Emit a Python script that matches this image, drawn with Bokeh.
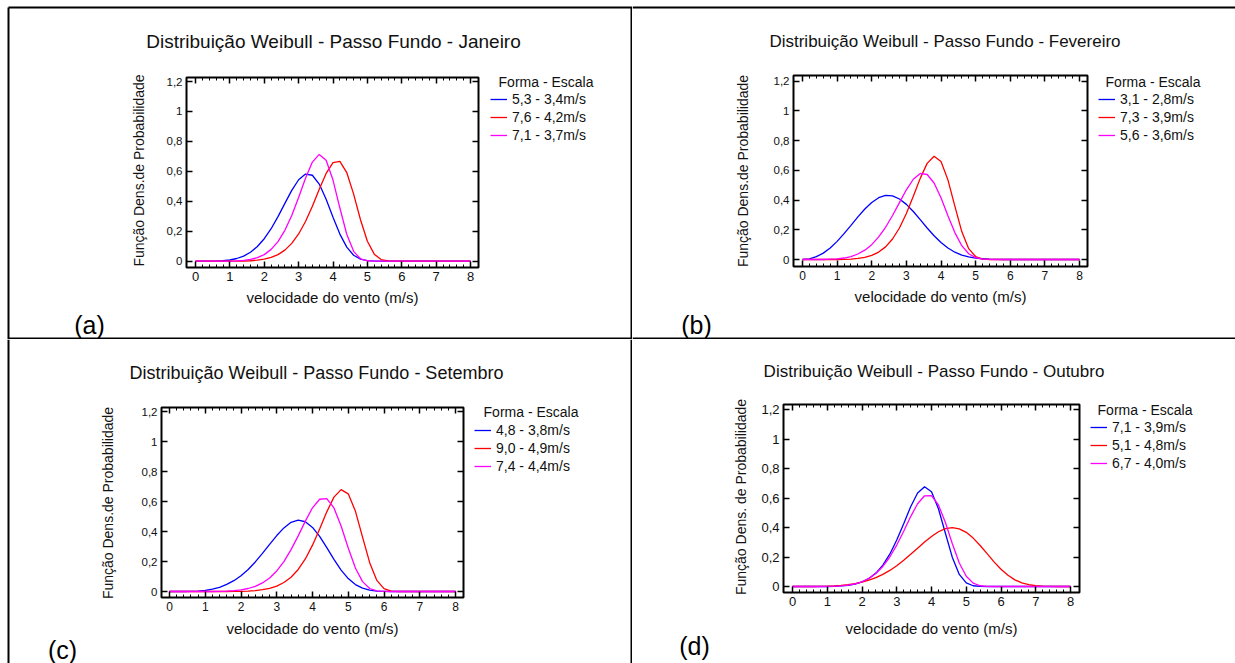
import math
from bokeh.plotting import figure
from bokeh.models import (Range1d, LinearAxis, FixedTicker, Label, Legend,
                          LegendItem, CustomJSTickFormatter)
from bokeh.layouts import row, column
from bokeh.embed import file_html
from bokeh.resources import INLINE

# ---------------- data ----------------
velocidade = [0.0, 0.2, 0.4, 0.6, 0.8, 1.0, 1.2, 1.4, 1.6, 1.8, 2.0, 2.2, 2.4, 2.6, 2.8,
              3.0, 3.2, 3.4, 3.6, 3.8, 4.0, 4.2, 4.4, 4.6, 4.8, 5.0, 5.2, 5.4, 5.6, 5.8,
              6.0, 6.2, 6.4, 6.6, 6.8, 7.0, 7.2, 7.4, 7.6, 7.8, 8.0]

x_ticks = [0, 1, 2, 3, 4, 5, 6, 7, 8]
y_ticks = [0, 0.2, 0.4, 0.6, 0.8, 1.0, 1.2]

titles = ["Distribuição Weibull - Passo Fundo - Janeiro",
          "Distribuição Weibull - Passo Fundo - Fevereiro",
          "Distribuição Weibull - Passo Fundo - Setembro",
          "Distribuição Weibull - Passo Fundo - Outubro"]
y_labels = ["Função Dens.de Probabilidade", "Função Dens.de Probabilidade",
            "Função Dens.de Probabilidade", "Função Dens. de Probabilidade"]
x_label = "velocidade do vento (m/s)"
legend_title = "Forma - Escala"
panel_letters = ["(a)", "(b)", "(c)", "(d)"]

jan_labels = ["5,3 - 3,4m/s", "7,6 - 4,2m/s", "7,1 - 3,7m/s"]
jan_1 = [0, 0, 0, 0.001, 0.003, 0.008, 0.018, 0.034, 0.060, 0.098, 0.150, 0.217, 0.298, 0.386,
         0.473, 0.544, 0.582, 0.574, 0.515, 0.414, 0.294, 0.181, 0.094, 0.040, 0.014, 0.004,
         0.001, 0, 0, 0, 0, 0, 0, 0, 0, 0, 0, 0, 0, 0, 0]
jan_2 = [0, 0, 0, 0, 0, 0, 0, 0.001, 0.003, 0.007, 0.014, 0.025, 0.044, 0.074, 0.119, 0.182,
         0.265, 0.367, 0.480, 0.586, 0.658, 0.666, 0.592, 0.448, 0.277, 0.133, 0.047, 0.011,
         0.002, 0, 0, 0, 0, 0, 0, 0, 0, 0, 0, 0, 0]
jan_3 = [0, 0, 0, 0, 0, 0.001, 0.002, 0.005, 0.012, 0.024, 0.044, 0.079, 0.131, 0.206, 0.305,
         0.426, 0.554, 0.662, 0.713, 0.674, 0.542, 0.355, 0.180, 0.066, 0.016, 0.003,
         0, 0, 0, 0, 0, 0, 0, 0, 0, 0, 0, 0, 0, 0, 0]

fev_labels = ["3,1 - 2,8m/s", "7,3 - 3,9m/s", "5,6 - 3,6m/s"]
fev_1 = [0, 0.004, 0.019, 0.043, 0.078, 0.122, 0.174, 0.230, 0.287, 0.340, 0.384, 0.416, 0.431,
         0.428, 0.407, 0.371, 0.323, 0.268, 0.212, 0.160, 0.114, 0.077, 0.049, 0.030, 0.017,
         0.009, 0.005, 0.002, 0.001, 0, 0, 0, 0, 0, 0, 0, 0, 0, 0, 0, 0]
fev_2 = [0, 0, 0, 0, 0, 0, 0.001, 0.003, 0.007, 0.014, 0.028, 0.050, 0.085, 0.138, 0.212, 0.309,
         0.425, 0.546, 0.647, 0.695, 0.659, 0.536, 0.359, 0.188, 0.073, 0.020, 0.003,
         0, 0, 0, 0, 0, 0, 0, 0, 0, 0, 0, 0, 0, 0]
fev_3 = [0, 0, 0, 0, 0.002, 0.004, 0.010, 0.020, 0.037, 0.063, 0.100, 0.152, 0.217, 0.296, 0.383,
         0.469, 0.540, 0.579, 0.572, 0.515, 0.416, 0.295, 0.181, 0.093, 0.039, 0.013, 0.003,
         0.001, 0, 0, 0, 0, 0, 0, 0, 0, 0, 0, 0, 0, 0]

set_labels = ["4,8 - 3,8m/s", "9,0 - 4,9m/s", "7,4 - 4,4m/s"]
set_1 = [0, 0, 0, 0.001, 0.003, 0.008, 0.016, 0.028, 0.047, 0.072, 0.105, 0.147, 0.197, 0.254,
         0.314, 0.373, 0.424, 0.461, 0.476, 0.465, 0.427, 0.367, 0.292, 0.214, 0.143, 0.086,
         0.046, 0.022, 0.009, 0.003, 0.001, 0, 0, 0, 0, 0, 0, 0, 0, 0, 0]
set_2 = [0, 0, 0, 0, 0, 0, 0, 0, 0, 0.001, 0.001, 0.003, 0.006, 0.012, 0.021, 0.036, 0.060, 0.095,
         0.147, 0.217, 0.309, 0.417, 0.531, 0.629, 0.679, 0.651, 0.536, 0.363, 0.192, 0.074,
         0.019, 0.003, 0, 0, 0, 0, 0, 0, 0, 0, 0]
set_3 = [0, 0, 0, 0, 0, 0, 0, 0.001, 0.003, 0.006, 0.011, 0.020, 0.034, 0.057, 0.090, 0.137,
         0.199, 0.279, 0.371, 0.469, 0.558, 0.615, 0.619, 0.557, 0.437, 0.290, 0.157, 0.066,
         0.020, 0.004, 0.001, 0, 0, 0, 0, 0, 0, 0, 0, 0, 0]

out_labels = ["7,1 - 3,9m/s", "5,1 - 4,8m/s", "6,7 - 4,0m/s"]
out_1 = [0, 0, 0, 0, 0, 0, 0.001, 0.004, 0.008, 0.016, 0.031, 0.054, 0.091, 0.145, 0.219, 0.315,
         0.426, 0.541, 0.634, 0.676, 0.642, 0.527, 0.361, 0.197, 0.082, 0.024, 0.005, 0.001,
         0, 0, 0, 0, 0, 0, 0, 0, 0, 0, 0, 0, 0]
out_2 = [0, 0, 0, 0, 0.001, 0.002, 0.004, 0.007, 0.012, 0.019, 0.029, 0.043, 0.060, 0.082, 0.109,
         0.141, 0.178, 0.218, 0.259, 0.301, 0.339, 0.371, 0.392, 0.399, 0.391, 0.367, 0.328,
         0.278, 0.223, 0.167, 0.117, 0.076, 0.045, 0.025, 0.012, 0.005, 0.002, 0.001, 0, 0, 0]
out_3 = [0, 0, 0, 0, 0, 0.001, 0.002, 0.004, 0.009, 0.018, 0.032, 0.055, 0.088, 0.136, 0.200,
         0.281, 0.375, 0.474, 0.561, 0.615, 0.616, 0.553, 0.434, 0.290, 0.159, 0.069, 0.023,
         0.005, 0.001, 0, 0, 0, 0, 0, 0, 0, 0, 0, 0, 0, 0]

series_colors = ["#0000ff", "#ff0000", "#ff00ff"]

# ---------------- styling / layout (local pixel positions per quadrant) ----------------
FONT = "Liberation Sans"
TXT = "#111111"

panels = [
    dict(w=632, h=339, ticks_px=(195, 470, 260.7, 81), box=(186, 478, 77, 267),
         title_xy=(333, 41), title_size="19px", lt_xy=(545.5, 81), leg_xy=(490, 195),
         letter_xy=(89, 324), xl_xy=(332, 297), yl_xy=(138, 170),
         xtick="13px", ytick="11.5px",
         borders=[((8, 7), (632, 7)), ((8, 7), (8, 339)), ((631, 7), (631, 339)),
                  ((8, 338), (632, 338))],
         series=[jan_1, jan_2, jan_3], labels=jan_labels),
    dict(w=603, h=339, ticks_px=(170, 447, 259, 80.7), box=(161, 455, 75, 266),
         title_xy=(312.5, 41), title_size="17px", lt_xy=(520.5, 81), leg_xy=(466, 195),
         letter_xy=(64, 324), xl_xy=(308, 296), yl_xy=(110, 170.5),
         xtick="12px", ytick="11.5px",
         borders=[((0, 7), (603, 7)), ((0, 338), (603, 338))],
         series=[fev_1, fev_2, fev_3], labels=fev_labels),
    dict(w=632, h=324, ticks_px=(169, 455, 252, 72), box=(161, 463, 68, 258),
         title_xy=(316, 33), title_size="18px", lt_xy=(530.5, 72), leg_xy=(474, 188),
         letter_xy=(62, 310), xl_xy=(312, 289), yl_xy=(107, 163.5),
         xtick="12px", ytick="11.5px",
         borders=[((8, 0), (8, 324)), ((631, 0), (631, 324))],
         series=[set_1, set_2, set_3], labels=set_labels),
    dict(w=603, h=324, ticks_px=(160, 438, 247, 70), box=(151, 447, 65, 253),
         title_xy=(301.5, 32), title_size="17px", lt_xy=(512.5, 70), leg_xy=(458, 191),
         letter_xy=(62, 306), xl_xy=(299, 289), yl_xy=(108, 157.5),
         xtick="13px", ytick="13px",
         borders=[],
         series=[out_1, out_2, out_3], labels=out_labels),
]

fmt_code = """
var s = tick.toFixed(1).replace('.', ',');
if (s.slice(-2) == ',0') { s = s.slice(0, -2); }
return s;
"""


def styled_axis(ticker, fixed, minor, label_size=None, formatter=None, standoff=4):
    kw = dict(ticker=ticker, fixed_location=fixed, axis_line_color=None,
              major_tick_in=6, major_tick_out=0, major_tick_line_color="black",
              major_tick_line_width=1.5)
    if minor:
        kw.update(minor_tick_in=3, minor_tick_out=0, minor_tick_line_color="black",
                  minor_tick_line_width=1)
    else:
        kw.update(minor_tick_line_color=None)
    if label_size is None:
        kw.update(major_label_text_font_size="0px", major_label_text_color=None)
    else:
        kw.update(major_label_text_font=FONT, major_label_text_font_size=label_size,
                  major_label_text_color=TXT, major_label_standoff=standoff)
    if formatter is not None:
        kw.update(formatter=formatter)
    return LinearAxis(**kw)


def make_panel(i, cfg):
    w, h = cfg["w"], cfg["h"]
    x0, x8, y0, y12 = cfg["ticks_px"]
    sx = (x8 - x0) / 8.0
    sy = (y0 - y12) / 1.2

    def dx(px):
        return (px - x0) / sx

    def dy(py):
        return (y0 - py) / sy

    p = figure(width=w, height=h, output_backend="svg", toolbar_location=None,
               x_range=Range1d(dx(0), dx(w)), y_range=Range1d(dy(h), dy(0)),
               x_axis_type=None, y_axis_type=None, min_border=0)
    p.extra_x_ranges = {"px": Range1d(0, w)}
    p.extra_y_ranges = {"px": Range1d(h, 0)}
    p.grid.visible = False
    p.outline_line_color = None
    p.background_fill_color = "white"
    p.border_fill_color = "white"

    # quadrant borders of the table
    for (xa, ya), (xb, yb) in cfg["borders"]:
        p.segment(x0=xa, y0=ya, x1=xb, y1=yb, line_color="black", line_width=2,
                  x_range_name="px", y_range_name="px")

    # plot box
    bl, br, bt, bb = cfg["box"]
    p.quad(left=bl, right=br, top=bt, bottom=bb, fill_color=None, line_color="black",
           line_width=2, x_range_name="px", y_range_name="px")

    xt = FixedTicker(ticks=x_ticks, minor_ticks=[round(0.2 * k, 1) for k in range(41)])
    yt = FixedTicker(ticks=y_ticks, minor_ticks=[])
    fmt = CustomJSTickFormatter(code=fmt_code)

    p.add_layout(styled_axis(xt, dy(bb), True, cfg["xtick"], standoff=4), "below")
    p.add_layout(styled_axis(xt, dy(bt), True), "above")
    p.add_layout(styled_axis(yt, dx(bl), False, cfg["ytick"], formatter=fmt, standoff=4), "left")
    p.add_layout(styled_axis(yt, dx(br), False), "right")

    items = []
    for ys, lab, col in zip(cfg["series"], cfg["labels"], series_colors):
        r = p.line(velocidade, ys, line_color=col, line_width=1.3)
        items.append(LegendItem(label=lab, renderers=[r]))

    leg = Legend(items=items, location=cfg["leg_xy"], orientation="vertical",
                 padding=0, margin=0, spacing=0, label_height=18, glyph_height=18,
                 glyph_width=17, label_standoff=5, label_text_font=FONT,
                 label_text_font_size="14px", label_text_color=TXT,
                 border_line_color=None, background_fill_alpha=0)
    p.add_layout(leg)

    def text(xy, s, size, angle=0.0, color=TXT):
        p.add_layout(Label(x=xy[0], y=xy[1], x_range_name="px", y_range_name="px",
                           text=s, angle=angle, text_align="center",
                           text_baseline="middle", text_font=FONT,
                           text_font_size=size, text_color=color))

    text(cfg["title_xy"], titles[i], cfg["title_size"])
    text(cfg["lt_xy"], legend_title, "14px")
    text(cfg["xl_xy"], x_label, "15px")
    text(cfg["yl_xy"], y_labels[i], "14px", angle=math.pi / 2)
    text(cfg["letter_xy"], panel_letters[i], "25px", color="black")
    return p


figs = [make_panel(i, c) for i, c in enumerate(panels)]

layout = column(row(figs[0], figs[1]), row(figs[2], figs[3]))

open("out.html", "w").write(file_html(layout, INLINE, "Distribuição Weibull - Passo Fundo"))
